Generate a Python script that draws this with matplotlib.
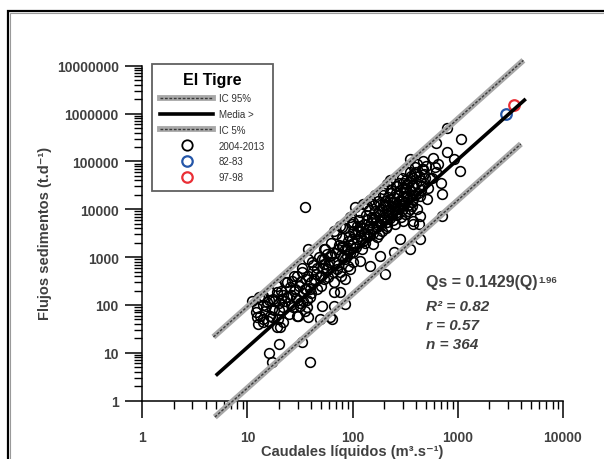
import numpy as np
import matplotlib
matplotlib.use('Agg')
import matplotlib.pyplot as plt
from matplotlib.lines import Line2D
from matplotlib.legend_handler import HandlerTuple
from matplotlib.patches import Rectangle

plt.rcParams['font.family'] = ['Liberation Sans', 'DejaVu Sans']

# ---------------- data ----------------
points_2004 = [
    # left / bottom outliers
    (16, 10), (17, 6.3), (20, 15), (33, 17), (39, 6.5), (35, 11000),
    # low-flow cluster
    (11, 122), (12.3, 85), (12.3, 55), (12.7, 40), (14.2, 52), (14.7, 76), (15.3, 113),
    (17.1, 82), (17.7, 133), (20.5, 34), (19.7, 51), (22, 89), (23.7, 144), (25.5, 233),
    (26.5, 320), (29.5, 60), (31.8, 96), (33, 480), (38, 55), (39.4, 144), (41, 775),
    (49, 51), (51, 96), (49, 405), (61, 55), (66, 183), (66, 296), (79, 1720), (71, 560),
    (38, 1470), (57, 1160), (42.5, 517), (29.5, 405), (28.4, 215), (21, 133), (16.4, 60),
    (36.7, 89), (45.7, 215), (53, 714), (76, 183), (63.5, 51), (53, 350), (35.5, 215),
    (22.8, 300), (19, 183), (14.2, 155), (15.8, 47), (13.2, 60), (66, 96), (85, 104), (85, 350),
    (12, 70), (13, 150), (14, 45), (15, 95), (16, 200), (17, 55), (18, 120), (19, 35), (19, 250),
    (20, 80), (21, 200), (22, 45), (23, 120), (24, 300), (25, 65), (26, 160), (27, 90),
    (28, 400), (29, 140), (30, 60), (31, 250), (32, 110), (33, 600), (34, 180), (35, 75),
    (36, 350), (37, 130), (38, 900), (39, 220),
    (40, 300), (42, 700), (45, 450), (48, 1000), (50, 250), (52, 600), (55, 1500), (58, 380),
    (60, 800), (62, 2000), (65, 500), (68, 1200), (70, 3000), (72, 700), (75, 1800), (78, 400),
    (80, 2500), (82, 1000), (85, 4000), (88, 1500), (90, 650), (92, 2800), (95, 1800),
    (98, 5000), (100, 1300), (100, 3500), (102, 800),
    (24, 150), (26, 100), (28, 200), (30, 130), (32, 300), (34, 120), (36, 220), (38, 400),
    (40, 180), (43, 350), (46, 600), (50, 400), (54, 900), (58, 700), (63, 1100), (67, 800),
    (72, 1500), (77, 1100), (18, 80), (20, 110), (22, 160), (14, 100), (16, 130),
    # central cluster
    (410, 87500), (460, 68700), (354, 58700), (228, 40000), (265, 30800), (330, 33400),
    (127, 13000), (106, 10900), (79, 4170), (102, 5300), (158, 6210), (197, 11700),
    (228, 16300), (295, 15000), (354, 10000), (440, 7280), (285, 2380), (440, 2380),
    (354, 1470), (246, 1250), (205, 442), (184, 1065), (147, 658), (118, 837), (95, 560),
    (76, 480), (53, 1470), (61.5, 1065), (82, 1720), (110, 2380), (137, 2580), (158, 1870),
    (88.5, 1065), (66, 3500), (76, 4500), (118, 8570), (95, 7000), (137, 11700),
    (147, 16000), (164, 20000), (197, 26300), (213, 34000), (295, 46000), (354, 24200),
    (316, 63500), (265, 8570), (213, 4500), (305, 5720), (380, 4900), (177, 3020),
    (118, 4500), (98, 2380), (85, 908), (122, 1470), (57, 560), (51, 908),
    (105, 3000), (110, 4500), (115, 6000), (120, 3500), (125, 2200), (130, 5000),
    (135, 7500), (140, 3800), (145, 9500), (150, 5500), (155, 3200), (160, 12000),
    (165, 7000), (170, 4200), (175, 15000), (180, 9000), (185, 5800), (190, 3500),
    (195, 20000), (200, 7000), (205, 12500), (210, 4000), (215, 9500), (220, 18000),
    (225, 6500), (230, 11000), (235, 25000), (240, 8000), (250, 14000), (255, 5000),
    (260, 22000), (270, 10000), (275, 35000), (280, 15000), (290, 7000), (300, 28000),
    (310, 12000), (320, 40000), (330, 18000), (340, 9000), (350, 25000), (360, 50000),
    (370, 14000), (380, 32000), (400, 60000), (420, 22000), (440, 40000), (460, 30000),
    (480, 55000), (500, 80000), (520, 28000), (550, 45000), (580, 120000), (620, 60000),
    (650, 90000), (700, 35000),
    (85, 1500), (90, 2200), (95, 1200), (100, 2000), (108, 1600), (112, 3500), (118, 2800),
    (124, 4000), (128, 3000), (132, 2000), (136, 6000), (142, 4500), (148, 3000),
    (152, 7000), (158, 4000), (162, 9000), (168, 5500), (172, 2600), (178, 7500),
    (182, 12000), (188, 4800), (192, 9500), (198, 6000), (202, 15000), (208, 8000),
    (212, 5500), (218, 12000), (222, 7500), (228, 22000), (232, 9000), (238, 14000),
    (245, 6000), (248, 18000), (252, 10000), (258, 30000), (262, 12500), (268, 7500),
    (272, 20000), (278, 11000), (285, 25000), (292, 16000), (298, 9500), (305, 35000),
    (312, 22000), (318, 14000), (325, 28000), (335, 12000), (345, 38000), (355, 18000),
    (365, 30000), (375, 45000), (390, 20000), (405, 35000), (430, 50000), (450, 25000),
    (470, 70000),
    # high-flow points
    (792, 510000), (1085, 300000), (627, 240000), (792, 158000), (916, 111000),
    (1045, 63500), (354, 110000), (468, 102000), (604, 75000), (395, 75000), (570, 46000),
    (710, 20700), (490, 46000), (395, 54000), (511, 16300), (710, 7280), (330, 19000),
    (305, 19000), (380, 16300), (438, 19000), (410, 10000), (370, 11700), (380, 5720),
    (425, 4900), (316, 7900), (295, 11700),
]
q_2004 = [p[0] for p in points_2004]
qs_2004 = [p[1] for p in points_2004]

q_8283 = [2910]
qs_8283 = [1.0e6]
q_9798 = [3415]
qs_9798 = [1.49e6]

fit_coef = 0.1429
fit_exp = 1.96
ic_offset_decades = 0.85
fit_q_range = (5, 4450)
ic95_q_range = (4.75, 4225)
ic5_q_range = (4.9, 4000)

x_ticks = [1, 10, 100, 1000, 10000]
x_tick_labels = ['1', '10', '100', '1000', '10000']
y_ticks = [1, 10, 100, 1000, 10000, 100000, 1000000, 10000000]
y_tick_labels = ['1', '10', '100', '1000', '10000', '100000', '1000000', '10000000']

legend_labels = ['IC 95%', 'Media >', 'IC 5%', '2004-2013', '82-83', '97-98']

# ---------------- figure ----------------
W, H = 604, 460
fig = plt.figure(figsize=(W / 100, H / 100), dpi=100)
fig.patch.set_facecolor('white')
ax = fig.add_axes([142.3 / W, 1 - 401.7 / H, 420.4 / W, 335 / H])
ax.set_xscale('log')
ax.set_yscale('log')
ax.set_xlim(1, 1e4)
ax.set_ylim(1, 1e7)
ax.patch.set_alpha(0)

for s in ('top', 'right'):
    ax.spines[s].set_visible(False)
for s in ('left', 'bottom'):
    ax.spines[s].set_linewidth(1.1)

txt_col = '#404040'
ax.set_xticks(x_ticks, labels=x_tick_labels)
ax.set_yticks(y_ticks, labels=y_tick_labels)
ax.xaxis.set_minor_locator(matplotlib.ticker.LogLocator(base=10, subs=np.arange(2, 10)))
ax.yaxis.set_minor_locator(matplotlib.ticker.LogLocator(base=10, subs=np.arange(2, 10)))
ax.xaxis.set_minor_formatter(matplotlib.ticker.NullFormatter())
ax.yaxis.set_minor_formatter(matplotlib.ticker.NullFormatter())
ax.tick_params(which='major', direction='out', length=12, width=1.1, labelsize=10,
               labelcolor=txt_col)
ax.tick_params(which='minor', direction='out', length=6, width=1.0)
ax.tick_params(axis='x', which='major', pad=9)
ax.tick_params(axis='y', which='major', pad=5)
for lab in ax.get_xticklabels() + ax.get_yticklabels():
    lab.set_fontweight('bold')

ax.set_xlabel('Caudales líquidos (m³.s⁻¹)', fontsize=10.5, fontweight='bold',
              color=txt_col, va='center')
ax.xaxis.set_label_coords(0.5, (401.7 - 452) / 335)
ax.set_ylabel('Flujos sedimentos (t.d⁻¹)', fontsize=10.5, fontweight='bold',
              color=txt_col, va='center')
ax.yaxis.set_label_coords((45 - 142.3) / 420.4, (401.7 - 233) / 335)

# scatter
ms, mew = 7.0, 1.15
ax.plot(q_2004, qs_2004, ls='none', marker='o', mfc='none', mec='black', ms=ms, mew=mew,
        zorder=2)
ax.plot(q_8283, qs_8283, ls='none', marker='o', mfc='none', mec='#2456a8', ms=ms + 0.6,
        mew=1.6, zorder=2)
ax.plot(q_9798, qs_9798, ls='none', marker='o', mfc='none', mec='#ea2e35', ms=ms + 0.6,
        mew=1.6, zorder=2)

# fitted line and confidence lines
ic_grey = '#a8a8a8'
ic_dark = '#3a3a3a'


def ic_line(qrange, offset):
    qq = np.geomspace(qrange[0], qrange[1], 60)
    yy = fit_coef * 10 ** offset * qq ** fit_exp
    ax.plot(qq, yy, color=ic_grey, lw=4.2, solid_capstyle='butt', zorder=3, clip_on=False)
    ax.plot(qq, yy, color=ic_dark, lw=1.0, dashes=(2.0, 1.2), zorder=3.1, clip_on=False)


ic_line(ic95_q_range, ic_offset_decades)
ic_line(ic5_q_range, -ic_offset_decades)
qf = np.geomspace(fit_q_range[0], fit_q_range[1], 60)
ax.plot(qf, fit_coef * qf ** fit_exp, color='black', lw=2.6, zorder=4,
        solid_capstyle='butt')

# legend
h_ic = (Line2D([], [], color=ic_grey, lw=4.2),
        Line2D([], [], color=ic_dark, lw=1.0, dashes=(2.0, 1.2)))
h_media = Line2D([], [], color='black', lw=2.6)
h_a = Line2D([], [], ls='none', marker='o', mfc='none', mec='black', ms=7.5, mew=1.3)
h_b = Line2D([], [], ls='none', marker='o', mfc='none', mec='#2456a8', ms=7.5, mew=1.6)
h_c = Line2D([], [], ls='none', marker='o', mfc='none', mec='#ea2e35', ms=7.5, mew=1.6)
leg = ax.legend([h_ic, h_media, h_ic, h_a, h_b, h_c], legend_labels,
                handler_map={tuple: HandlerTuple(ndivide=1, pad=0)},
                loc='upper left', bbox_to_anchor=(152 / W, 1 - 65 / H),
                bbox_transform=fig.transFigure, borderaxespad=0, fancybox=False,
                edgecolor='#606060', framealpha=1, title='El Tigre',
                title_fontproperties={'weight': 'bold', 'size': 11.5},
                fontsize=7, handlelength=5.4, handletextpad=0.6, labelspacing=0.6,
                borderpad=0.85)
leg.get_frame().set_linewidth(1.3)
for t in leg.get_texts():
    t.set_color('#333333')
leg.set_zorder(6)

# equation block
ann_col = '#404040'
t1 = fig.text(426 / W, 1 - 283 / H, 'Qs = 0.1429(Q)', fontsize=11.5, fontweight='bold',
              color=ann_col, va='center', ha='left')
fig.canvas.draw()
ax.annotate('1.96', xy=(1.0, 0.98), xycoords=t1, xytext=(0.5, 0), textcoords='offset points',
            ha='left', va='top', fontsize=6.8, fontweight='bold', color=ann_col,
            annotation_clip=False)
for txt, yy in [('R² = 0.82', 307), ('r = 0.57', 326), ('n = 364', 345)]:
    fig.text(426 / W, 1 - yy / H, txt, fontsize=11, fontweight='bold', style='italic',
             color=ann_col, va='center', ha='left')

# outer frame (cropped at right and bottom)
fig.add_artist(Rectangle((8 / W, -0.5), 2.0, 0.5 + 1 - 12 / H, transform=fig.transFigure,
                         fill=False, ec='black', lw=1.6))
fig.add_artist(Rectangle((10 / W, -0.5), 2.0, 0.5 + 1 - 14 / H, transform=fig.transFigure,
                         fill=False, ec='#9a9a9a', lw=0.8))

fig.savefig('out.png', dpi=100)
